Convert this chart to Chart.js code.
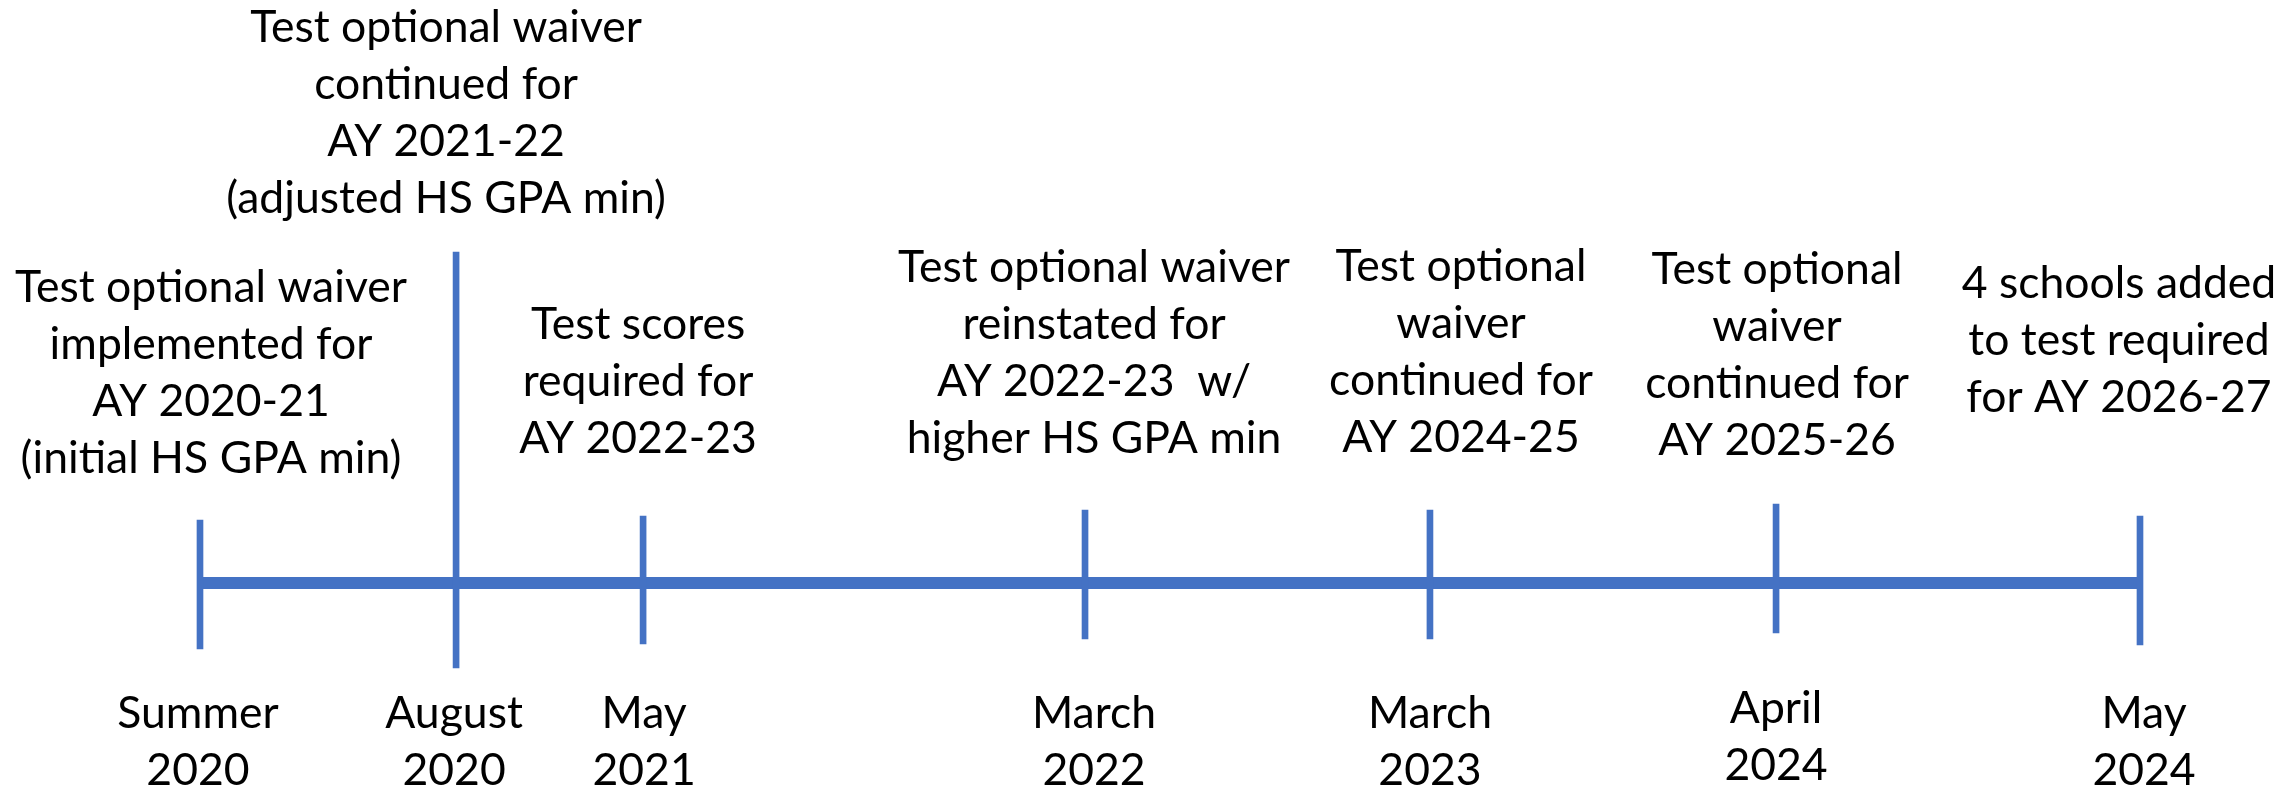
<!DOCTYPE html>
<html>
<head>
<meta charset="utf-8">
<script src="https://cdn.jsdelivr.net/npm/chart.js@4"></script>
<style>
  body { margin: 0; background: #fff; }
  canvas { display: block; }
</style>
</head>
<body>
<canvas id="timeline" width="2277" height="791"></canvas>
<script>
// timeline events, left to right
var dateLabels = [['Summer', '2020'], ['August', '2020'], ['May', '2021'], ['March', '2022'],
                  ['March', '2023'], ['April', '2024'], ['May', '2024']];
var eventPos = [0, 13.2, 22.84, 45.62, 63.4, 81.24, 100];   // position along the timeline (0..100)
var tickHigh = [63, 331, 67, 73, 73, 79, 67];               // how far each tick goes above the line
var tickLow = [-66, -85, -61, -56, -56, -50, -62];          // and below
var eventText = [
  ['Test optional waiver', 'implemented for', 'AY 2020-21', '(initial HS GPA min)'],
  ['Test optional waiver', 'continued for', 'AY 2021-22', '(adjusted HS GPA min)'],
  ['Test scores', 'required for', 'AY 2022-23'],
  ['Test optional waiver', 'reinstated for', 'AY 2022-23  w/', 'higher HS GPA min'],
  ['Test optional', 'waiver', 'continued for', 'AY 2024-25'],
  ['Test optional', 'waiver', 'continued for', 'AY 2025-26'],
  ['4 schools added', 'to test required', 'for AY 2026-27']
];

var blue = '#4472C4';

var tickData = eventPos.map(function(p, i) {
  return { x: p, y: [tickLow[i], tickHigh[i]] };
});

// draws the event notes above and the dates below
var labelPlugin = {
  id: 'timelineLabels',
  afterDatasetsDraw: function(chart, args, opts) {
    var ctx = chart.ctx;
    var xs = chart.scales.x, ys = chart.scales.y;
    ctx.save();
    ctx.fillStyle = '#000';
    ctx.font = opts.fontSize + 'px Lato';
    ctx.textAlign = 'center';
    ctx.textBaseline = 'alphabetic';
    eventPos.forEach(function(p, i) {
      var cx = xs.getPixelForValue(p);
      // note above
      var lines = eventText[i];
      var bottom = ys.getPixelForValue(opts.noteBase[i]);
      for (var k = 0; k < lines.length; k++) {
        var y = bottom - (lines.length - 1 - k) * opts.lineGap;
        ctx.fillText(lines[k], cx + opts.noteDx[i], y);
      }
      // date below
      var d = dateLabels[i];
      var top = ys.getPixelForValue(opts.dateBase) + opts.dateDy[i];
      for (var j = 0; j < d.length; j++) {
        ctx.fillText(d[j], cx + opts.dateDx[i], top + j * opts.lineGap);
      }
    });
    ctx.restore();
  }
};

var ctx = document.getElementById('timeline').getContext('2d');
var chart = new Chart(ctx, {
  type: 'bar',
  data: {
    datasets: [{
      type: 'line',
      data: [{ x: 0, y: 0 }, { x: 100, y: 0 }],
      borderColor: blue,
      borderWidth: 12,
      borderCapStyle: 'butt',
      pointRadius: 0,
      order: 2
    }, {
      type: 'bar',
      data: tickData,
      backgroundColor: blue,
      borderWidth: 0,
      barThickness: 6,
      order: 1
    }]
  },
  options: {
    responsive: false,
    animation: false,
    devicePixelRatio: 1,
    layout: { padding: 0 },
    plugins: {
      legend: { display: false },
      tooltip: { enabled: false },
      timelineLabels: {
        fontSize: 44.5,
        lineGap: 57,
        noteBase: [110, 370, 130, 130, 131, 128, 171],
        noteDx: [11, -10, -5, 9, 31, 1, -21],
        dateBase: -145,
        dateDy: [0, 0, 0, 0, 0, -5, 0],
        dateDx: [-2, -2, 1, 9, 0, 0, 4]
      }
    },
    scales: {
      x: { type: 'linear', min: -10.309, max: 107.062, offset: false, display: false },
      y: { min: -208, max: 583, display: false }
    }
  },
  plugins: [labelPlugin]
});
</script>
</body>
</html>
